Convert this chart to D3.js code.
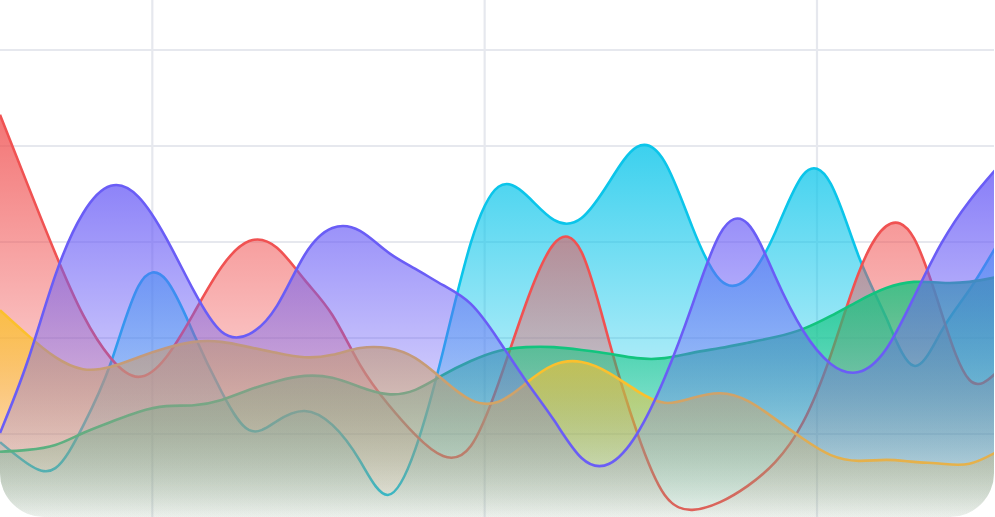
<!DOCTYPE html>
<html>
<head>
<meta charset="utf-8">
<script src="https://cdn.jsdelivr.net/npm/d3@7"></script>
<style>
  html, body { margin: 0; padding: 0; background: #fff; }
  svg { display: block; }
</style>
</head>
<body>
<div id="chart"></div>
<script>
// sample positions (shared by every series)
var steps = [0,1,2,3,4,5,6,7,8,9,10,11,12,13,14,15,16,17,18,19,20,21,22,23,24,25,26,27,28,29,30,31,32,33,34,35,36];

var cyanVals = [18.3,13.8,12.9,21.7,34.8,50.8,52.1,40.8,28.8,20.8,22.7,24.8,21.9,14.4,7.3,16.9,37.3,59.8,71.5,69.8,64.6,65.0,72.5,79.8,76.7,63.1,52.1,52.5,62.1,74.0,72.1,57.1,44.2,34.2,41.5,50.0,59.4];
var redVals = [86.5,71.9,57.6,44.8,35.8,31.9,36.0,45.2,54.8,60.2,58.8,52.1,44.8,34.4,26.3,19.8,15.4,17.5,30.6,47.3,59.6,57.9,39.2,20.4,7.3,4.2,5.8,9.2,14.2,22.5,36.5,53.5,63.3,60.8,45.2,31.3,32.9];
var greenVals = [16.3,16.7,17.7,20.2,22.5,24.6,25.8,26.0,27.1,29.2,31.0,32.1,31.7,29.8,28.3,29.2,32.3,35.2,37.3,38.1,38.1,37.5,36.7,35.8,35.8,36.9,37.9,39.0,40.2,41.9,44.6,47.7,50.4,51.7,51.5,51.7,52.7];
var yellowVals = [45.8,40.6,36.0,33.5,34.0,36.0,37.9,39.2,39.2,38.1,36.9,36.0,36.5,37.9,37.9,35.8,31.3,27.1,26.7,30.6,34.4,35.0,32.7,29.0,26.5,27.5,28.5,26.9,23.1,19.0,15.6,14.4,14.6,14.2,13.8,13.8,16.3];
var purpleVals = [20.2,35.2,53.1,66.0,71.7,69.4,60.8,49.8,41.3,40.8,46.7,57.3,62.9,62.3,57.9,54.4,51.0,47.1,39.6,31.0,22.9,15.0,13.8,20.0,31.7,46.9,61.7,63.8,52.7,41.5,34.6,32.9,37.7,48.5,59.8,68.5,75.4];

var yTicks = [20, 40, 60, 80, 100];
var xTicks = [5.5, 17.5, 29.5];

// drawing order: first one ends up at the back
var series = [
  {name: "cyan",   color: "#0bc5ea", values: cyanVals},
  {name: "red",    color: "#f05252", values: redVals},
  {name: "green",  color: "#12c47e", values: greenVals},
  {name: "yellow", color: "#fbc02d", values: yellowVals},
  {name: "purple", color: "#6a5df6", values: purpleVals}
];

var width = 995, height = 517;

var svg = d3.select("#chart").append("svg")
    .attr("width", width)
    .attr("height", height);

var x = d3.scaleLinear().domain([0, 36]).range([0, 997]);
var y = d3.scaleLinear().domain([0, 100]).range([530, 50]);

var defs = svg.append("defs");

defs.append("clipPath").attr("id", "card")
  .append("rect")
    .attr("x", 0).attr("y", -60)
    .attr("width", 994).attr("height", height + 60)
    .attr("rx", 44).attr("ry", 44);

series.forEach(function(s) {
  var g = defs.append("linearGradient")
      .attr("id", "grad-" + s.name)
      .attr("x1", 0).attr("y1", 0)
      .attr("x2", 0).attr("y2", 1);
  g.append("stop").attr("offset", "0%").attr("stop-color", s.color).attr("stop-opacity", 0.8);
  g.append("stop").attr("offset", "100%").attr("stop-color", s.color).attr("stop-opacity", 0);
});

var root = svg.append("g").attr("clip-path", "url(#card)");

// grid
var grid = root.append("g").attr("stroke", "#e6e8ee").attr("stroke-width", 2.2);
grid.selectAll("line.h").data(yTicks).enter().append("line")
    .attr("class", "h")
    .attr("x1", 0).attr("x2", width)
    .attr("y1", function(d) { return y(d); })
    .attr("y2", function(d) { return y(d); });
grid.selectAll("line.v").data(xTicks).enter().append("line")
    .attr("class", "v")
    .attr("y1", 0).attr("y2", height)
    .attr("x1", function(d) { return x(d); })
    .attr("x2", function(d) { return x(d); });

var curve = d3.curveNatural;

var area = d3.area()
    .x(function(d, i) { return x(steps[i]); })
    .y0(y(0))
    .y1(function(d) { return y(d); })
    .curve(curve);

var line = d3.line()
    .x(function(d, i) { return x(steps[i]); })
    .y(function(d) { return y(d); })
    .curve(curve);

var layer = root.selectAll("g.series").data(series).enter().append("g")
    .attr("class", "series");

layer.append("path")
    .attr("d", function(s) { return area(s.values); })
    .attr("fill", function(s) { return "url(#grad-" + s.name + ")"; });

layer.append("path")
    .attr("d", function(s) { return line(s.values); })
    .attr("fill", "none")
    .attr("stroke", function(s) { return s.color; })
    .attr("stroke-width", 2.6)
    .attr("stroke-linejoin", "round");
</script>
</body>
</html>
